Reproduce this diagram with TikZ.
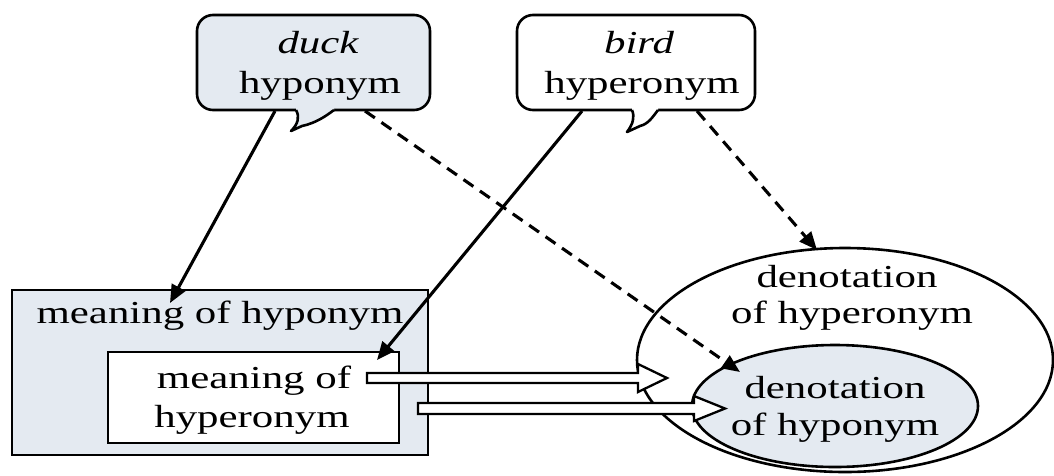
\documentclass[tikz,border=0pt]{standalone}
\usepackage{fontspec}
\setmainfont{Liberation Serif}[FakeStretch=1.34]
\usetikzlibrary{arrows.meta,shapes.geometric}
\definecolor{paleblue}{RGB}{228,234,241}

\begin{document}
\begin{tikzpicture}[x=1pt,y=-1pt,
  txt/.style={inner sep=0pt, anchor=base, font=\fontsize{32}{38}\selectfont},
  frame/.style={draw=black, line width=2.6pt},
  bubble/.style={frame, rounded corners=16pt, inner sep=0pt},
  plainbox/.style={frame, inner sep=0pt},
  setshape/.style={frame, ellipse, inner sep=0pt},
  solidarrow/.style={line width=3.1pt, -{Triangle[length=18pt,width=15pt]}},
  dasharrow/.style={solidarrow, dash pattern=on 12pt off 8pt},
  hollow/.style={draw=black, line width=2.3pt, fill=white, line join=miter},
  pointerline/.style={frame, line join=round},
]
\useasboundingbox (0,0) rectangle (1054,475);

% speech bubbles
\node[bubble, fill=paleblue, minimum width=233pt, minimum height=95pt] (duckbox) at (313.5,62.5) {};
\fill[paleblue] (334,106) -- (334,110) .. controls (326,116) and (316,123) .. (302,126)
  -- (291,131) .. controls (298,124) and (300,117) .. (296,110) -- (296,106) -- cycle;
\draw[pointerline] (334,110) .. controls (326,116) and (316,123) .. (302,126)
  -- (291,131) .. controls (298,124) and (300,117) .. (296,110);

\node[bubble, fill=white, minimum width=238pt, minimum height=95pt] (birdbox) at (636,62.5) {};
\fill[white] (658,106) -- (658,110) .. controls (652,118) and (648,124) .. (640,126)
  -- (627,132) .. controls (633,124) and (635,117) .. (632,110) -- (632,106) -- cycle;
\draw[pointerline] (658,110) .. controls (652,118) and (648,124) .. (640,126)
  -- (627,132) .. controls (633,124) and (635,117) .. (632,110);

\node[txt] (duckword) at (318,53) {\itshape duck};
\node[txt] (ducktag) at (320,93) {hyponym};
\node[txt] (birdword) at (639,53) {\itshape bird};
\node[txt] (birdtag) at (642,93) {hyperonym};

% meanings
\node[plainbox, fill=paleblue, minimum width=416pt, minimum height=165pt] (hypomeaning) at (220,372.5) {};
\node[plainbox, fill=white, minimum width=291pt, minimum height=91pt] (hypermeaning) at (253.5,397.5) {};
\node[txt] (hypomeaningA) at (220,323) {meaning of hyponym};
\node[txt] (hypermeaningA) at (254,388) {meaning of};
\node[txt] (hypermeaningB) at (252,427) {hyperonym};

% denotations
\node[setshape, fill=white, minimum width=416pt, minimum height=224pt] (hyperden) at (845,360) {};
\node[setshape, fill=paleblue, minimum width=286pt, minimum height=122pt] (hypoden) at (835,406) {};
\node[txt] (hyperdenA) at (847,287) {denotation};
\node[txt] (hyperdenB) at (852,323) {of hyperonym};
\node[txt] (hypodenA) at (835,398) {denotation};
\node[txt] (hypodenB) at (835,435) {of hyponym};

% hollow arrows from meaning to denotation
\draw[hollow] (367,373) -- (638,373) -- (638,364) -- (667,378) -- (638,392) -- (638,383) -- (367,383) -- cycle;
\draw[hollow] (418,403) -- (694,403) -- (694,396) -- (725,408.5) -- (694,421) -- (694,414) -- (418,414) -- cycle;

% connector end points
\coordinate (duckS1) at (275,111);
\coordinate (duckS2) at (365,111);
\coordinate (birdS1) at (582,111);
\coordinate (birdS2) at (697,111);
\coordinate (hypomeaningIn) at (170,303);
\coordinate (hypermeaningIn) at (377,360);
\coordinate (hypodenIn) at (740,372);
\coordinate (hyperdenIn) at (817,250);

\draw[solidarrow] (duckS1) -- (hypomeaningIn);
\draw[dasharrow] (duckS2) -- (hypodenIn);
\draw[solidarrow] (birdS1) -- (hypermeaningIn);
\draw[dasharrow] (birdS2) -- (hyperdenIn);
\end{tikzpicture}
\end{document}
